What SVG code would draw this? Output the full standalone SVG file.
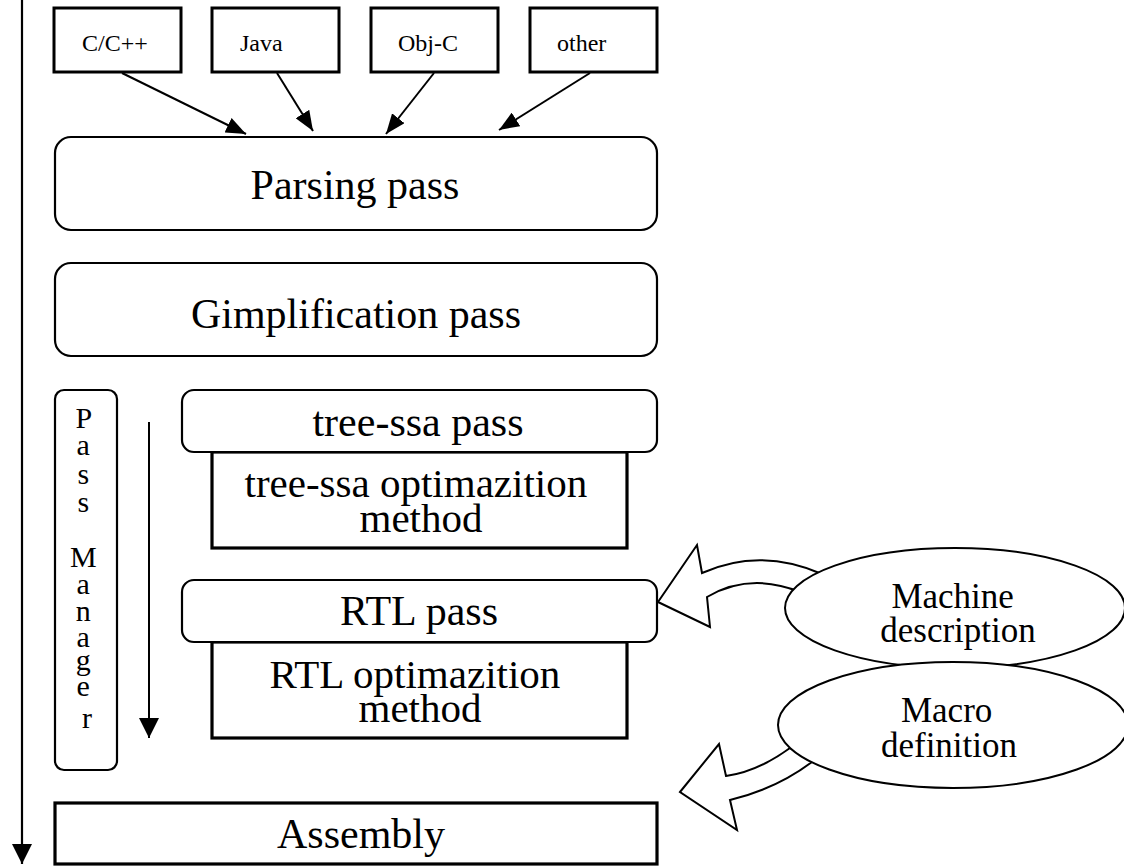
<svg xmlns="http://www.w3.org/2000/svg" width="1124" height="866" viewBox="0 0 1124 866">
  <style>
    .bg { fill: #ffffff; }
    .lang { fill: #ffffff; stroke: #000000; stroke-width: 3; }
    .pass { fill: #ffffff; stroke: #000000; stroke-width: 2.2; }
    .method { fill: #ffffff; stroke: #000000; stroke-width: 3.2; }
    .oval { fill: #ffffff; stroke: #000000; stroke-width: 2; }
    .block { fill: #ffffff; stroke: #000000; stroke-width: 2; stroke-linejoin: miter; }
    .edge { fill: none; stroke: #000000; stroke-width: 2; }
    .flow { fill: none; stroke: #000000; stroke-width: 2.2; }
    text { font-family: "Liberation Serif", "Times New Roman", serif; fill: #000000; }
    .small { font-size: 24px; }
    .big { font-size: 42px; text-anchor: middle; }
    .two { font-size: 41px; text-anchor: middle; }
    .mid { font-size: 35px; text-anchor: middle; }
    .vert { font-size: 30px; text-anchor: middle; }
  </style>
  <defs>
    <marker id="head" viewBox="0 0 20 16" refX="20" refY="8" markerWidth="20" markerHeight="16" markerUnits="userSpaceOnUse" orient="auto">
      <path d="M0,0 L20,8 L0,16 Z" fill="#000000"/>
    </marker>
    <marker id="headSmall" viewBox="0 0 20 20" refX="20" refY="10" markerWidth="20" markerHeight="20" markerUnits="userSpaceOnUse" orient="auto">
      <path d="M0,0 L20,10 L0,20 Z" fill="#000000"/>
    </marker>
  </defs>

  <rect class="bg" x="0" y="0" width="1124" height="866"/>

  <!-- source languages -->
  <g id="lang-c">
    <rect class="lang" x="54" y="8" width="127" height="64"/>
    <text class="small" x="82" y="51">C/C++</text>
  </g>
  <g id="lang-java">
    <rect class="lang" x="212" y="8" width="127" height="64"/>
    <text class="small" x="240" y="51">Java</text>
  </g>
  <g id="lang-objc">
    <rect class="lang" x="371" y="8" width="127" height="64"/>
    <text class="small" x="398" y="51">Obj-C</text>
  </g>
  <g id="lang-other">
    <rect class="lang" x="530" y="8" width="127" height="64"/>
    <text class="small" x="557" y="51">other</text>
  </g>

  <!-- compiler passes -->
  <g id="parsing">
    <rect class="pass" x="55" y="137" width="602" height="93" rx="16"/>
    <text class="big" x="355" y="199">Parsing pass</text>
  </g>
  <g id="gimplification">
    <rect class="pass" x="55" y="263" width="602" height="93" rx="16"/>
    <text class="big" x="356" y="328">Gimplification pass</text>
  </g>
  <g id="pass-manager">
    <rect class="pass" x="55" y="390" width="62" height="380" rx="9"/>
    <text class="vert">
      <tspan x="87" y="428">P</tspan>
      <tspan x="87" y="455">a</tspan>
      <tspan x="87" y="484">s</tspan>
      <tspan x="87" y="512">s</tspan>
      <tspan x="87" y="567">M</tspan>
      <tspan x="87" y="594">a</tspan>
      <tspan x="87" y="621">n</tspan>
      <tspan x="87" y="647">a</tspan>
      <tspan x="87" y="670">g</tspan>
      <tspan x="87" y="696">e</tspan>
      <tspan x="87" y="728">r</tspan>
    </text>
  </g>
  <g id="tree-ssa-method">
    <rect class="method" x="212" y="452" width="415" height="96"/>
    <text class="two">
      <tspan x="421" y="497">tree-ssa optimazition</tspan>
      <tspan x="421" y="532">method</tspan>
    </text>
  </g>
  <g id="tree-ssa">
    <rect class="pass" x="182" y="390" width="475" height="62" rx="12"/>
    <text class="big" x="418" y="436">tree-ssa pass</text>
  </g>
  <g id="rtl-method">
    <rect class="method" x="212" y="642" width="415" height="96"/>
    <text class="two">
      <tspan x="420" y="688">RTL optimazition</tspan>
      <tspan x="420" y="722">method</tspan>
    </text>
  </g>
  <g id="rtl">
    <rect class="pass" x="182" y="580" width="475" height="62" rx="12"/>
    <text class="big" x="419" y="625">RTL pass</text>
  </g>
  <g id="assembly">
    <rect class="method" x="55" y="803" width="602" height="61"/>
    <text class="big" x="361" y="848">Assembly</text>
  </g>

  <!-- connectors -->
  <g id="connectors">
    <line class="flow" x1="22" y1="0" x2="22" y2="864" marker-end="url(#headSmall)"/>
    <line class="edge" x1="149" y1="422" x2="149" y2="738" marker-end="url(#headSmall)"/>
    <line class="edge" x1="122" y1="73" x2="246" y2="134" marker-end="url(#head)"/>
    <line class="edge" x1="277" y1="73" x2="313" y2="131" marker-end="url(#head)"/>
    <line class="edge" x1="434" y1="73" x2="386" y2="134" marker-end="url(#head)"/>
    <line class="edge" x1="590" y1="73" x2="499" y2="130" marker-end="url(#head)"/>
    <!-- hollow curved arrow into the RTL pass -->
    <path class="block" d="M658,602 L697,545 L702,573 Q760,547 822,574 L800,592 Q750,572 707,597 L710,627 Z"/>
    <!-- hollow curved arrow into the assembly stage -->
    <path class="block" d="M680,792 L719,744 L726,776 Q757,772 790,748 L812,762 Q776,789 730,800 L737,830 Z"/>
  </g>

  <!-- target descriptions -->
  <g id="machine-description">
    <ellipse class="oval" cx="955" cy="608" rx="170" ry="60"/>
    <text class="mid">
      <tspan x="957" y="608">Machine</tspan>
      <tspan x="958" y="642">description</tspan>
    </text>
  </g>
  <g id="macro-definition">
    <ellipse class="oval" cx="953" cy="725" rx="175" ry="63"/>
    <text class="mid">
      <tspan x="951" y="722">Macro</tspan>
      <tspan x="949" y="757">definition</tspan>
    </text>
  </g>
</svg>
